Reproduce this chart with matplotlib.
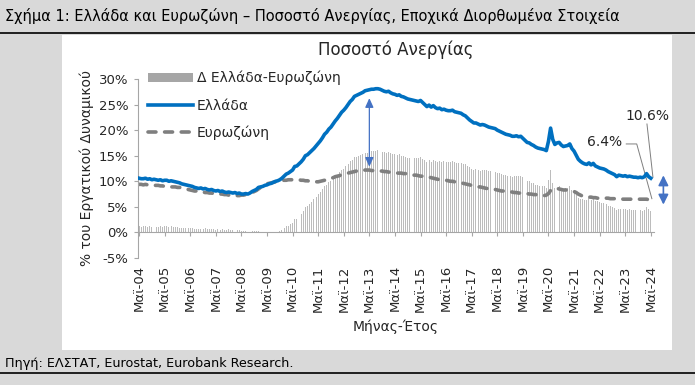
import numpy as np
import matplotlib.pyplot as plt
import matplotlib.transforms as mtransforms
from matplotlib.patches import Rectangle
from matplotlib.lines import Line2D

plt.rcParams['font.family'] = ['DejaVu Sans']

# monthly unemployment rate, May 2004 - May 2024 (%)
greece = [
    10.6, 10.5, 10.5, 10.6, 10.4, 10.5, 10.3, 10.4,                     # 2004 (May-Dec)
    10.3, 10.2, 10.3, 10.1, 10.2, 10.2, 10.0, 10.1, 10.0, 9.9, 9.8, 9.7,  # 2005
    9.5, 9.4, 9.3, 9.2, 9.1, 9.0, 8.8, 8.7, 8.6, 8.7, 8.5, 8.6,          # 2006
    8.4, 8.3, 8.4, 8.2, 8.1, 8.2, 8.0, 8.1, 7.9, 7.8, 7.9, 7.8,          # 2007
    7.7, 7.8, 7.6, 7.7, 7.5, 7.5, 7.6, 7.5, 7.7, 8.0, 8.2, 8.4,          # 2008
    8.8, 8.9, 9.0, 9.2, 9.3, 9.5, 9.6, 9.8, 10.0, 10.1, 10.3, 10.6,      # 2009
    11.0, 11.4, 11.6, 11.9, 12.2, 12.9, 13.0, 13.4, 13.8, 14.3, 15.0, 15.2,  # 2010
    15.6, 16.0, 16.4, 16.9, 17.4, 17.9, 18.5, 19.2, 19.6, 20.2, 20.6, 21.2,  # 2011
    21.8, 22.3, 22.9, 23.5, 23.9, 24.4, 25.0, 25.6, 26.0, 26.6, 26.8, 27.0,  # 2012
    27.2, 27.4, 27.7, 27.8, 27.9, 28.0, 28.0, 28.1, 28.1, 28.0, 27.8, 27.6,  # 2013
    27.5, 27.6, 27.3, 27.1, 27.0, 26.8, 26.9, 26.6, 26.5, 26.3, 26.1, 26.0,  # 2014
    25.9, 25.8, 25.7, 25.6, 25.8, 25.4, 25.0, 24.6, 24.9, 24.5, 24.8, 24.4,  # 2015
    24.2, 24.3, 24.0, 24.1, 23.9, 23.8, 23.8, 23.9, 23.6, 23.5, 23.4, 23.3,  # 2016
    23.0, 22.8, 22.4, 22.0, 21.7, 21.4, 21.4, 21.2, 21.0, 21.1, 21.0, 20.8,  # 2017
    20.6, 20.5, 20.4, 20.3, 20.0, 19.8, 19.6, 19.4, 19.2, 19.1, 19.0, 18.8,  # 2018
    18.8, 18.9, 18.7, 18.8, 18.4, 18.0, 17.6, 17.5, 17.2, 17.0, 16.7, 16.5,  # 2019
    16.4, 16.3, 16.2, 16.0, 17.8, 20.4, 18.2, 17.2, 17.5, 17.6, 17.1, 16.8,  # 2020
    16.9, 17.0, 17.3, 16.4, 15.9, 15.1, 14.3, 13.9, 13.6, 13.4, 13.3, 13.6,  # 2021
    13.2, 13.5, 13.0, 12.8, 12.6, 12.5, 12.4, 12.2, 11.9, 11.7, 11.5, 11.3,  # 2022
    10.9, 11.2, 11.1, 11.0, 11.1, 10.9, 11.0, 10.9, 10.8, 10.8, 10.7, 10.8,  # 2023
    10.7, 10.9, 11.5, 10.9, 10.6,                                          # 2024 (Jan-May)
]
eurozone = [
    9.4, 9.4, 9.3, 9.4, 9.3, 9.3, 9.3, 9.2,
    9.2, 9.2, 9.1, 9.1, 9.0, 9.0, 9.0, 8.9, 8.9, 8.9, 8.8, 8.8,
    8.7, 8.6, 8.5, 8.4, 8.3, 8.2, 8.1, 8.1, 8.0, 8.0, 7.9, 7.8,
    7.8, 7.7, 7.7, 7.6, 7.6, 7.6, 7.5, 7.5, 7.4, 7.4, 7.3, 7.3,
    7.3, 7.2, 7.2, 7.2, 7.3, 7.3, 7.4, 7.5, 7.6, 7.8, 8.0, 8.2,
    8.5, 8.8, 9.1, 9.3, 9.5, 9.6, 9.7, 9.8, 9.9, 10.0, 10.1, 10.1,
    10.2, 10.2, 10.3, 10.3, 10.3, 10.3, 10.3, 10.3, 10.2, 10.2, 10.1, 10.1,
    10.0, 10.0, 9.9, 9.9, 9.9, 10.0, 10.1, 10.2, 10.3, 10.4, 10.6, 10.7,
    10.9, 11.0, 11.1, 11.3, 11.4, 11.5, 11.6, 11.7, 11.8, 11.9, 12.0, 12.1,
    12.1, 12.1, 12.2, 12.2, 12.2, 12.1, 12.1, 12.1, 12.0, 12.0, 12.0, 11.9,
    11.9, 11.8, 11.8, 11.7, 11.7, 11.6, 11.6, 11.6, 11.5, 11.5, 11.5, 11.4,
    11.3, 11.2, 11.2, 11.1, 11.0, 11.0, 10.9, 10.9, 10.8, 10.7, 10.6, 10.5,
    10.4, 10.3, 10.3, 10.2, 10.2, 10.1, 10.0, 10.0, 9.9, 9.9, 9.8, 9.7,
    9.6, 9.5, 9.4, 9.3, 9.2, 9.1, 9.0, 8.9, 8.9, 8.8, 8.7, 8.6,
    8.6, 8.5, 8.5, 8.4, 8.3, 8.2, 8.1, 8.1, 8.0, 8.0, 7.9, 7.9,
    7.8, 7.8, 7.7, 7.7, 7.6, 7.6, 7.6, 7.5, 7.5, 7.4, 7.4, 7.3,
    7.3, 7.3, 7.2, 7.3, 7.6, 8.2, 8.5, 8.6, 8.6, 8.5, 8.4, 8.3,
    8.3, 8.3, 8.3, 8.2, 8.0, 7.8, 7.5, 7.3, 7.1, 7.0, 6.9, 6.9,
    6.9, 6.8, 6.8, 6.7, 6.7, 6.7, 6.7, 6.7, 6.7, 6.6, 6.6, 6.6,
    6.6, 6.6, 6.6, 6.5, 6.5, 6.5, 6.5, 6.5, 6.5, 6.5, 6.5, 6.5,
    6.5, 6.5, 6.5, 6.4, 6.4,
]
tick_labels = ['Μαϊ-%02d' % y for y in range(4, 25)]
y_ticks = [-5, 0, 5, 10, 15, 20, 25, 30]

greece = np.array(greece)
eurozone = np.array(eurozone)
diff = greece - eurozone
months = np.arange(len(greece))
tick_pos = np.arange(0, len(greece), 12)

txt = '#262626'
fig = plt.figure(figsize=(6.95, 3.85), dpi=100)
fig.patch.set_facecolor('#d9d9d9')

# white panel + header/footer rules
fig.add_artist(Rectangle((62/695, 1-350/385), 610/695, 315/385, transform=fig.transFigure,
                         facecolor='white', edgecolor='none', zorder=0))
fig.add_artist(Line2D([0, 1], [1-33/385, 1-33/385], color='black', lw=1.2))
fig.add_artist(Line2D([0, 1], [1-373/385, 1-373/385], color='black', lw=1.2))
fig.text(5/695, 1-16/385, 'Σχήμα 1: Ελλάδα και Ευρωζώνη – Ποσοστό Ανεργίας, Εποχικά Διορθωμένα Στοιχεία',
         fontsize=10.5, color='black', va='center', ha='left')
fig.text(5/695, 1-363/385, 'Πηγή: ΕΛΣΤΑΤ, Eurostat, Eurobank Research.',
         fontsize=9.2, color='black', va='center', ha='left')

ax = fig.add_axes([138/695, 1-258/385, 516/695, 179/385])
ax.set_facecolor('none')

ax.bar(months, diff, width=0.45, color='#bcbcbc', zorder=1)
gr_line, = ax.plot(months, greece, color='#0070C0', lw=2.6, zorder=3)
ez_line, = ax.plot(months, eurozone, color='#7f7f7f', lw=2.6, ls=(0, (2.2, 2.4)),
                   dash_capstyle='round', zorder=2)

ax.set_xlim(-0.5, 241.5)
ax.set_ylim(-5, 30)
ax.set_yticks(y_ticks)
ax.set_yticklabels(['%d%%' % v for v in y_ticks])
ax.set_xticks(tick_pos)
ax.set_xticklabels([])

for s in ['top', 'right']:
    ax.spines[s].set_visible(False)
ax.spines['bottom'].set_position(('data', 0))
ax.spines['bottom'].set_color('#a6a6a6')
ax.spines['left'].set_color('#a6a6a6')
ax.tick_params(axis='y', length=3, color='#a6a6a6', labelsize=9.5, labelcolor=txt, pad=4)
ax.tick_params(axis='x', length=3, color='#a6a6a6')

# month labels below the plot area, rotated
trans = mtransforms.blended_transform_factory(ax.transData, ax.transAxes)
for p, lab in zip(tick_pos, tick_labels):
    ax.text(p, -0.04, lab, transform=trans, rotation=90, ha='center', va='top',
            fontsize=9.5, color=txt)
ax.text(0.5, -0.385, 'Μήνας-Έτος', transform=ax.transAxes, ha='center', va='center',
        fontsize=10, color=txt)

ax.set_ylabel('% του Εργατικού Δυναμικού', fontsize=10, color=txt, labelpad=3)
ax.set_title('Ποσοστό Ανεργίας', fontsize=12, color=txt, pad=17)

bar_handle = Rectangle((0, 0), 1, 1, facecolor='#a6a6a6', edgecolor='none')
leg = ax.legend([bar_handle, gr_line, ez_line], ['Δ Ελλάδα-Ευρωζώνη', 'Ελλάδα', 'Ευρωζώνη'],
                loc='upper left', bbox_to_anchor=(0.02, 1.045), frameon=False,
                fontsize=10, handlelength=3.2, labelspacing=0.95, borderpad=0,
                borderaxespad=0, handletextpad=0.3)
for t in leg.get_texts():
    t.set_color(txt)

# arrows
ax.annotate('', xy=(108, 26.8), xytext=(108, 12.3),
            arrowprops=dict(arrowstyle='<|-|>,head_length=0.55,head_width=0.25',
                            color='#4472C4', lw=0.9), zorder=4)
ax.annotate('', xy=(245.9, 11.7), xytext=(245.9, 4.9), annotation_clip=False,
            arrowprops=dict(arrowstyle='<|-|>,head_length=0.6,head_width=0.3',
                            color='#4472C4', lw=1.2))

# value labels with leader lines
ax.text(238.6, 22.7, '10.6%', fontsize=10, color=txt, ha='center', va='center')
ax.plot([238.2, 241], [21.2, 10.8], color='#7f7f7f', lw=0.7)
ax.text(218.4, 17.7, '6.4%', fontsize=10, color=txt, ha='center', va='center')
ax.plot([228.5, 233.4, 240.5], [17.3, 17.3, 6.6], color='#7f7f7f', lw=0.7)

fig.savefig('out.png', dpi=100, facecolor=fig.get_facecolor())
